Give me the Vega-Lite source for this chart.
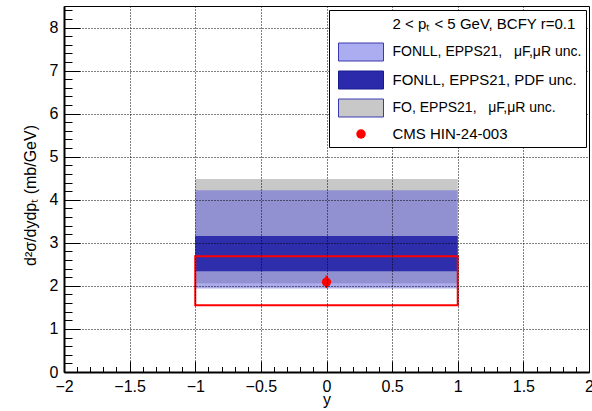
{
  "$schema": "https://vega.github.io/schema/vega-lite/v6.json",
  "width": 525,
  "height": 366,
  "autosize": {"type": "none"},
  "padding": {"left": 64, "top": 6, "right": 3, "bottom": 39},
  "background": "white",
  "config": {
    "view": {"stroke": "#000", "strokeWidth": 1},
    "font": "Liberation Sans"
  },
  "datasets": {
    "bands": [
      {"series": "FO, EPPS21,\u00a0\u00a0\u00a0μF,μR unc.", "xlo": -1, "xhi": 1, "lo": 2.06, "hi": 4.48},
      {"series": "FONLL, EPPS21,\u00a0\u00a0\u00a0μF,μR unc.", "xlo": -1, "xhi": 1, "lo": 1.94, "hi": 4.22},
      {"series": "FONLL, EPPS21, PDF unc.", "xlo": -1, "xhi": 1, "lo": 2.34, "hi": 3.16}
    ],
    "cms": [
      {"series": "CMS HIN-24-003", "x": 0, "y": 2.09, "lo": 1.95, "hi": 2.24, "xlo": -1, "xhi": 1, "syslo": 1.55, "syshi": 2.69}
    ]
  },
  "layer": [
    {
      "data": {"name": "bands"},
      "transform": [{"filter": "indexof(datum.series, 'FO,') === 0"}],
      "mark": {"type": "rect"},
      "encoding": {
        "x": {
          "field": "xlo", "type": "quantitative",
          "scale": {"domain": [-2, 2], "nice": false, "zero": false},
          "axis": {
            "values": [-2,-1.9,-1.8,-1.7,-1.6,-1.5,-1.4,-1.3,-1.2,-1.1,-1,-0.9,-0.8,-0.7,-0.6,-0.5,-0.4,-0.3,-0.2,-0.1,0,0.1,0.2,0.3,0.4,0.5,0.6,0.7,0.8,0.9,1,1.1,1.2,1.3,1.4,1.5,1.6,1.7,1.8,1.9,2],
            "tickCount": 200,
            "format": "~g",
            "labelExpr": "abs(datum.value*2-round(datum.value*2))<0.001 ? datum.label : ''",
            "tickSize": {"condition": {"test": "abs(datum.value*2-round(datum.value*2))<0.001", "value": -11}, "value": -5.5},
            "tickColor": "#000",
            "tickWidth": 1,
            "grid": true,
            "gridOpacity": {"condition": {"test": "abs(datum.value*2-round(datum.value*2))<0.001 && abs(datum.value)<1.99", "value": 1}, "value": 0},
            "gridColor": "#000",
            "gridDash": [1, 2],
            "gridWidth": 1,
            "domainColor": "#000",
            "domainWidth": 2,
            "labelFont": "Liberation Sans",
            "labelFontSize": 16,
            "labelColor": "#000",
            "labelPadding": 17,
            "labelFlush": false,
            "labelOverlap": false,
            "labelBound": false,
            "title": "y",
            "titleFont": "Liberation Sans",
            "titleFontSize": 16,
            "titleFontWeight": "normal",
            "titleColor": "#000",
            "titleX": 262.5,
            "titleY": 32,
            "titleBaseline": "alphabetic",
            "titleAlign": "center",
            "titleAnchor": null,
            "zindex": 1
          }
        },
        "x2": {"field": "xhi"},
        "y": {
          "field": "lo", "type": "quantitative",
          "scale": {"domain": [0, 8.5], "nice": false, "zero": false},
          "axis": {
            "values": [0,0.2,0.4,0.6,0.8,1,1.2,1.4,1.6,1.8,2,2.2,2.4,2.6,2.8,3,3.2,3.4,3.6,3.8,4,4.2,4.4,4.6,4.8,5,5.2,5.4,5.6,5.8,6,6.2,6.4,6.6,6.8,7,7.2,7.4,7.6,7.8,8,8.2,8.4],
            "tickCount": 200,
            "format": "~g",
            "labelExpr": "abs(datum.value-round(datum.value))<0.001 ? datum.label : ''",
            "tickSize": {"condition": {"test": "abs(datum.value-round(datum.value))<0.001", "value": -16}, "value": -8},
            "tickColor": "#000",
            "tickWidth": 1,
            "grid": true,
            "gridOpacity": {"condition": {"test": "abs(datum.value-round(datum.value))<0.001 && datum.value>0.5", "value": 1}, "value": 0},
            "gridColor": "#000",
            "gridDash": [1, 2],
            "gridWidth": 1,
            "domainColor": "#000",
            "domainWidth": 2,
            "labelFont": "Liberation Sans",
            "labelFontSize": 16,
            "labelColor": "#000",
            "labelPadding": 22,
            "labelFlush": false,
            "labelOverlap": false,
            "labelBound": false,
            "title": "d²σ/dydpₜ (mb/GeV)",
            "titleFont": "Liberation Sans",
            "titleFontSize": 16,
            "titleFontWeight": "normal",
            "titleColor": "#000",
            "titleX": -29,
            "titleY": 189,
            "titleAngle": -90,
            "titleBaseline": "alphabetic",
            "titleAlign": "center",
            "titleAnchor": null,
            "zindex": 1
          }
        },
        "y2": {"field": "hi"},
        "color": {
          "field": "series", "type": "nominal",
          "scale": {
            "domain": ["2 < pₜ < 5 GeV, BCFY r=0.1", "FONLL, EPPS21,\u00a0\u00a0\u00a0μF,μR unc.", "FONLL, EPPS21, PDF unc.", "FO, EPPS21,\u00a0\u00a0\u00a0μF,μR unc.", "CMS HIN-24-003"],
            "range": ["#ffffff", "#acacf0", "#2a2aaa", "#c8c8c8", "#ff0000"]
          },
          "legend": {
            "orient": "none",
            "legendX": 265,
            "legendY": 4,
            "title": null,
            "padding": 4.5,
            "strokeColor": "#000",
            "fillColor": "#fff",
            "symbolType": "M-2.5,-1H2.5V1H-2.5Z",
            "symbolSize": 324,
            "symbolOffset": 18,
            "symbolStrokeWidth": 1,
            "symbolOpacity": 1,
            "labelFont": "Liberation Sans",
            "labelFontSize": 15,
            "labelColor": "#000",
            "labelOffset": 22,
            "labelLimit": 0,
            "rowPadding": 5,
            "zindex": 2,
            "encode": {
              "symbols": {
                "update": {
                  "shape": {"signal": "datum.index === 4 ? 'circle' : 'M-2.5,-1H2.5V1H-2.5Z'"},
                  "size": {"signal": "datum.index === 4 ? 90 : 324"},
                  "stroke": {"signal": "['transparent','#3a3ab0','#1a1a90','#3a3ab0','transparent'][datum.index]"},
                  "opacity": {"value": 1},
                  "strokeWidth": {"value": 1}
                }
              },
              "labels": {
                "update": {
                  "fontSize": {"signal": "datum.index === 1 || datum.index === 3 ? 14 : 15"}
                }
              }
            }
          }
        }
      }
    },
    {
      "data": {"name": "bands"},
      "transform": [{"filter": "indexof(datum.series, 'FONLL, EPPS21,\u00a0') === 0"}],
      "mark": {"type": "rect", "fill": "#5a5adc", "opacity": 0.5},
      "encoding": {
        "x": {"field": "xlo", "type": "quantitative", "title": "y"},
        "x2": {"field": "xhi"},
        "y": {"field": "lo", "type": "quantitative", "title": "d²σ/dydpₜ (mb/GeV)"},
        "y2": {"field": "hi"}
      }
    },
    {
      "data": {"name": "bands"},
      "transform": [{"filter": "datum.series === 'FONLL, EPPS21, PDF unc.'"}],
      "mark": {"type": "rect", "fill": "#2e2eac"},
      "encoding": {
        "x": {"field": "xlo", "type": "quantitative", "title": "y"},
        "x2": {"field": "xhi"},
        "y": {"field": "lo", "type": "quantitative", "title": "d²σ/dydpₜ (mb/GeV)"},
        "y2": {"field": "hi"}
      }
    },
    {
      "data": {"name": "cms"},
      "mark": {"type": "rect", "filled": false, "stroke": "#ff0000", "strokeWidth": 2, "fill": null},
      "encoding": {
        "x": {"field": "xlo", "type": "quantitative", "title": "y"},
        "x2": {"field": "xhi"},
        "y": {"field": "syslo", "type": "quantitative", "title": "d²σ/dydpₜ (mb/GeV)"},
        "y2": {"field": "syshi"}
      }
    },
    {
      "data": {"name": "cms"},
      "mark": {"type": "rule", "color": "#ff0000", "strokeWidth": 2},
      "encoding": {
        "x": {"field": "x", "type": "quantitative", "title": "y"},
        "y": {"field": "lo", "type": "quantitative", "title": "d²σ/dydpₜ (mb/GeV)"},
        "y2": {"field": "hi"}
      }
    },
    {
      "data": {"name": "cms"},
      "mark": {"type": "point", "filled": true, "color": "#ff0000", "opacity": 1, "size": 85},
      "encoding": {
        "x": {"field": "x", "type": "quantitative", "title": "y"},
        "y": {"field": "y", "type": "quantitative", "title": "d²σ/dydpₜ (mb/GeV)"}
      }
    }
  ]
}
